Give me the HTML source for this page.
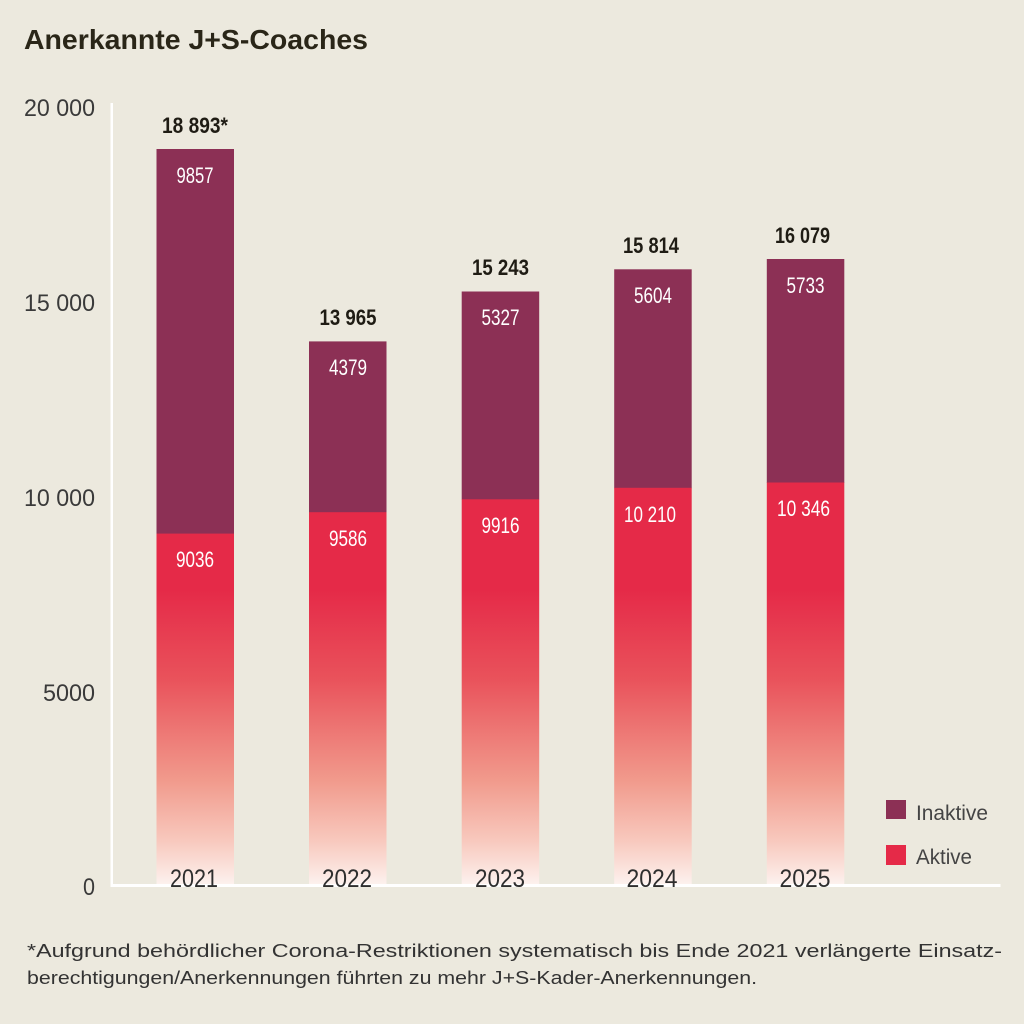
<!DOCTYPE html>
<html><head><meta charset="utf-8"><style>
html,body{margin:0;padding:0;background:#ece9de;}
svg{display:block;}
text{font-family:"Liberation Sans",sans-serif;}
</style></head><body>
<svg width="1024" height="1024" viewBox="0 0 1024 1024" xmlns="http://www.w3.org/2000/svg">
<defs>
<linearGradient id="g" gradientUnits="userSpaceOnUse" x1="0" y1="480" x2="0" y2="886">
<stop offset="0" stop-color="#e52a48"/>
<stop offset="0.27" stop-color="#e52a48"/>
<stop offset="0.49" stop-color="#e9525b"/>
<stop offset="0.74" stop-color="#f19a8c"/>
<stop offset="0.89" stop-color="#f8c9be"/>
<stop offset="1" stop-color="#fdf3f0"/>
</linearGradient>
</defs>
<rect width="1024" height="1024" fill="#ece9de"/>
<text x="24" y="49" font-size="28" font-weight="bold" fill="#2a2618" textLength="344" lengthAdjust="spacingAndGlyphs">Anerkannte J+S-Coaches</text>

<g font-size="24" fill="#3a3a3a" text-anchor="end">
<text x="95" y="116" textLength="71" lengthAdjust="spacingAndGlyphs">20 000</text>
<text x="95" y="311" textLength="71" lengthAdjust="spacingAndGlyphs">15 000</text>
<text x="95" y="506" textLength="71" lengthAdjust="spacingAndGlyphs">10 000</text>
<text x="95" y="701" textLength="52" lengthAdjust="spacingAndGlyphs">5000</text>
<text x="95" y="895" textLength="12" lengthAdjust="spacingAndGlyphs">0</text>
</g>

<!-- bars -->
<g>
<rect x="156.5" y="149" width="77.5" height="385" fill="#8c3055"/>
<rect x="156.5" y="533.6" width="77.5" height="351.4" fill="url(#g)"/>
<rect x="309" y="341.4" width="77.5" height="171.5" fill="#8c3055"/>
<rect x="309" y="512.2" width="77.5" height="372.8" fill="url(#g)"/>
<rect x="461.7" y="291.5" width="77.5" height="208" fill="#8c3055"/>
<rect x="461.7" y="499.3" width="77.5" height="385.7" fill="url(#g)"/>
<rect x="614.2" y="269.3" width="77.5" height="219" fill="#8c3055"/>
<rect x="614.2" y="487.8" width="77.5" height="397.2" fill="url(#g)"/>
<rect x="766.8" y="259" width="77.5" height="224" fill="#8c3055"/>
<rect x="766.8" y="482.5" width="77.5" height="402.5" fill="url(#g)"/>
</g>

<!-- axes -->
<rect x="110.5" y="103" width="2.5" height="784" fill="#ffffff"/>
<rect x="110.5" y="884" width="890" height="3" fill="#ffffff"/>

<!-- totals -->
<g font-size="22" font-weight="bold" fill="#1f1c14" text-anchor="middle">
<text x="195" y="133" textLength="66" lengthAdjust="spacingAndGlyphs">18 893*</text>
<text x="348" y="325" textLength="57" lengthAdjust="spacingAndGlyphs">13 965</text>
<text x="500.5" y="275" textLength="57" lengthAdjust="spacingAndGlyphs">15 243</text>
<text x="651" y="253" textLength="56" lengthAdjust="spacingAndGlyphs">15 814</text>
<text x="802.5" y="243" textLength="55" lengthAdjust="spacingAndGlyphs">16 079</text>
</g>

<!-- in-bar labels -->
<g font-size="22" fill="#ffffff" text-anchor="middle">
<text x="195" y="183" textLength="37" lengthAdjust="spacingAndGlyphs">9857</text>
<text x="195" y="567" textLength="38" lengthAdjust="spacingAndGlyphs">9036</text>
<text x="348" y="375" textLength="38" lengthAdjust="spacingAndGlyphs">4379</text>
<text x="348" y="546" textLength="38" lengthAdjust="spacingAndGlyphs">9586</text>
<text x="500.5" y="325" textLength="38" lengthAdjust="spacingAndGlyphs">5327</text>
<text x="500.5" y="533" textLength="38" lengthAdjust="spacingAndGlyphs">9916</text>
<text x="653" y="303" textLength="38" lengthAdjust="spacingAndGlyphs">5604</text>
<text x="650" y="522" textLength="52" lengthAdjust="spacingAndGlyphs">10 210</text>
<text x="805.5" y="293" textLength="38" lengthAdjust="spacingAndGlyphs">5733</text>
<text x="803.5" y="516" textLength="53" lengthAdjust="spacingAndGlyphs">10 346</text>
</g>

<!-- years -->
<g font-size="25" fill="#2e2e2e" text-anchor="middle">
<text x="194" y="887" textLength="48" lengthAdjust="spacingAndGlyphs">2021</text>
<text x="347" y="887" textLength="50" lengthAdjust="spacingAndGlyphs">2022</text>
<text x="500" y="887" textLength="50" lengthAdjust="spacingAndGlyphs">2023</text>
<text x="652" y="887" textLength="51" lengthAdjust="spacingAndGlyphs">2024</text>
<text x="805" y="887" textLength="51" lengthAdjust="spacingAndGlyphs">2025</text>
</g>

<!-- legend -->
<rect x="886" y="800" width="20" height="19" fill="#8c3055"/>
<rect x="886" y="845" width="20" height="20" fill="#e52a48"/>
<g font-size="21" fill="#444444">
<text x="916" y="820" textLength="72" lengthAdjust="spacingAndGlyphs">Inaktive</text>
<text x="916" y="864" textLength="56" lengthAdjust="spacingAndGlyphs">Aktive</text>
</g>

<!-- footnote -->
<g font-size="18.5" fill="#333333">
<text x="27" y="957" textLength="975" lengthAdjust="spacingAndGlyphs">*Aufgrund behördlicher Corona-Restriktionen systematisch bis Ende 2021 verlängerte Einsatz-</text>
<text x="27" y="984" textLength="730" lengthAdjust="spacingAndGlyphs">berechtigungen/Anerkennungen führten zu mehr J+S-Kader-Anerkennungen.</text>
</g>
</svg>
</body></html>
